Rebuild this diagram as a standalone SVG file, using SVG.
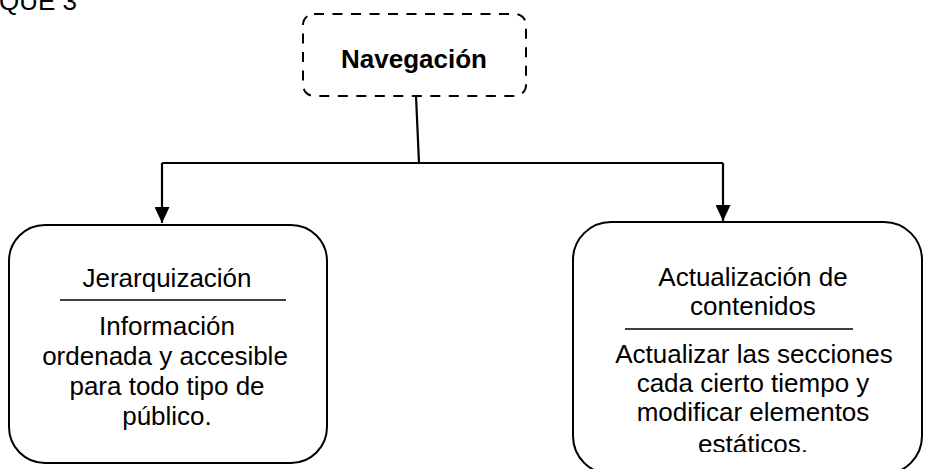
<svg xmlns="http://www.w3.org/2000/svg" width="925" height="469" viewBox="0 0 925 469">
<style>
text{font-family:"Liberation Sans",Arial,sans-serif;font-size:26px;fill:#000}
.c{text-anchor:middle}
.box{fill:#fff;stroke:#000;stroke-width:2}
.sep{stroke:#000;stroke-width:1.6}
.conn{fill:none;stroke:#000;stroke-width:2.2}
</style>
<defs>
<marker id="arr" viewBox="0 0 16 15" refX="16" refY="7.5" markerWidth="16" markerHeight="15" markerUnits="userSpaceOnUse" orient="auto">
<path d="M0,0 L16,7.5 L0,15 Z" fill="#000"/>
</marker>
<clipPath id="clipR"><rect x="560" y="200" width="365" height="252"/></clipPath>
</defs>
<text x="-1" y="10">QUE 3</text>
<g id="connectors">
<path class="conn" d="M416,96 L419,163"/>
<path class="conn" d="M162,163 L723,163"/>
<path class="conn" d="M162,163 L162,223" marker-end="url(#arr)"/>
<path class="conn" d="M723,163 L723,221" marker-end="url(#arr)"/>
</g>
<g id="navegacion">
<rect x="303" y="14" width="223" height="82" rx="11" fill="#fff" stroke="#000" stroke-width="2" stroke-dasharray="10,8.5"/>
<text class="c" x="414" y="68" font-weight="bold">Navegación</text>
</g>
<g id="jerarquizacion">
<rect class="box" x="9" y="225" width="318" height="238" rx="36"/>
<text class="c" x="167" y="287">Jerarquización</text>
<line class="sep" x1="60" y1="300" x2="286" y2="300"/>
<text class="c" x="167" y="335">Información</text>
<text class="c" x="165" y="365">ordenada y accesible</text>
<text class="c" x="167" y="395">para todo tipo de</text>
<text class="c" x="167" y="425">público.</text>
</g>
<g id="actualizacion">
<rect class="box" x="573" y="222" width="349" height="252" rx="38"/>
<text class="c" x="753" y="286">Actualización de</text>
<text class="c" x="753" y="315">contenidos</text>
<line class="sep" x1="625" y1="329" x2="853" y2="329"/>
<text class="c" x="754" y="363">Actualizar las secciones</text>
<text class="c" x="753" y="392">cada cierto tiempo y</text>
<text class="c" x="753" y="421">modificar elementos</text>
<text class="c" x="753" y="453" clip-path="url(#clipR)">estáticos.</text>
</g>
</svg>
